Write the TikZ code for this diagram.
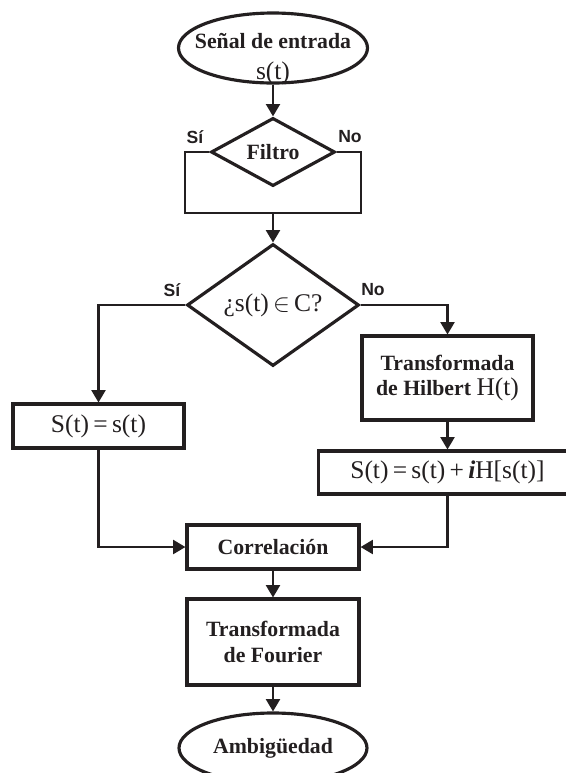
\documentclass[tikz,border=0pt]{standalone}
\usepackage{fontspec}
\setmainfont{Liberation Serif}
\newfontfamily\etiqfont{Liberation Sans}
\usepackage{tikz}
\usetikzlibrary{shapes.geometric, arrows.meta, positioning}
\definecolor{tinta}{RGB}{35,31,32}
\newcommand{\frml}[1]{{\fontsize{14.5}{16}\selectfont\mdseries #1}}
\tikzset{
  caja/.style={rectangle, draw=tinta, line width=1.8pt, text=tinta,
    align=center, inner sep=0pt, font=\fontsize{12.4}{14.5}\selectfont\bfseries},
  rombo/.style={diamond, draw=tinta, line width=1.8pt, text=tinta,
    align=center, inner sep=0pt, font=\fontsize{12.4}{14.5}\selectfont\bfseries},
  terminal/.style={ellipse, draw=tinta, line width=1.8pt, text=tinta,
    align=center, inner sep=0pt, font=\fontsize{12.4}{14.5}\selectfont\bfseries},
  etiqueta/.style={font=\etiqfont\fontsize{10}{12}\selectfont\bfseries, text=tinta},
  flecha/.style={-{Triangle[length=7pt,width=8pt]}, line width=1.2pt, color=tinta},
  linea/.style={line width=1.2pt, color=tinta}
}
\begin{document}
\begin{tikzpicture}
  \useasboundingbox (0,0) rectangle (11.32,-15.46);

  \node[terminal, minimum width=3.78cm, minimum height=1.40cm] (inicio) at (5.46,-0.96) {};
  \node[text=tinta, align=center, font=\fontsize{12.4}{14.5}\selectfont\bfseries] (inicioTxt) at (5.46,-1.18) {Señal de entrada\\[3pt]\frml{s(t)}};

  \node[rombo, minimum width=2.48cm, minimum height=1.26cm] (filtro) at (5.46,-3.04) {Filtro};
  \node[etiqueta] (filtroSi) at (3.90,-2.74) {Sí};
  \node[etiqueta] (filtroNo) at (7.00,-2.74) {No};
  \coordinate (lazo) at (5.46,-4.26);

  \node[rombo, minimum width=3.44cm, minimum height=2.36cm] (decision) at (5.46,-6.10) {\frml{¿s(t)$\,\in\,$C?}};
  \node[etiqueta] (decSi) at (3.44,-5.80) {Sí};
  \node[etiqueta] (decNo) at (7.46,-5.80) {No};

  \node[caja, minimum width=3.42cm, minimum height=0.88cm] (izq) at (1.97,-8.52) {\frml{S(t)\,=\,s(t)}};
  \node[caja, minimum width=3.42cm, minimum height=1.68cm] (hilbert) at (8.95,-7.56) {Transformada\\de Hilbert \frml{H(t)}};
  \node[caja, minimum width=5.16cm, minimum height=0.86cm] (analitica) at (8.95,-9.45) {\frml{S(t)\,=\,s(t)\,+\,\textbf{\textit{i}}H[s(t)]}};

  \node[caja, minimum width=3.44cm, minimum height=0.88cm] (correl) at (5.46,-10.94) {Correlación};
  \node[caja, minimum width=3.44cm, minimum height=1.72cm] (fourier) at (5.46,-12.84) {Transformada\\de Fourier};
  \node[terminal, minimum width=3.76cm, minimum height=1.40cm] (fin) at (5.46,-14.96) {Ambigüedad};

  \draw[flecha] (inicio) -- (filtro);
  \draw[linea] (filtro.west) -- ++(-0.48,0) |- (lazo) -| ([xshift=0.48cm]filtro.east) -- (filtro.east);
  \draw[flecha] (lazo) -- (decision);
  \draw[flecha] (decision.west) -| (izq.north);
  \draw[flecha] (decision.east) -| (hilbert.north);
  \draw[flecha] (hilbert) -- (analitica);
  \draw[flecha] (izq.south) |- (correl.west);
  \draw[flecha] (analitica.south) |- (correl.east);
  \draw[flecha] (correl) -- (fourier);
  \draw[flecha] (fourier) -- (fin);
\end{tikzpicture}
\end{document}
